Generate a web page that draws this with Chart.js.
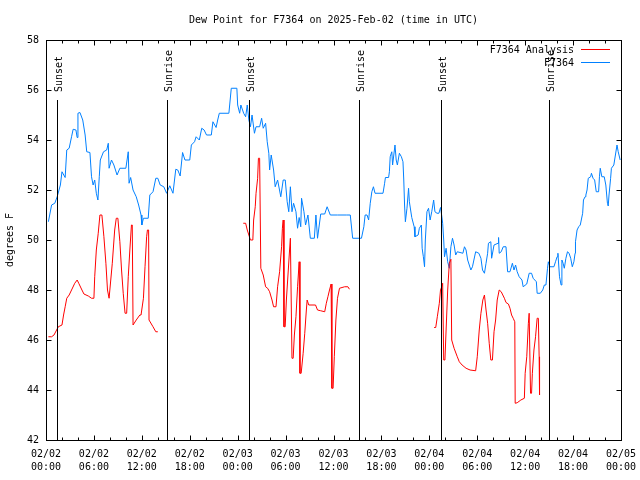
<!DOCTYPE html>
<html>
<head>
<meta charset="utf-8">
<script src="https://cdn.jsdelivr.net/npm/chart.js@4/dist/chart.umd.min.js"></script>
<style>
  html, body { margin: 0; padding: 0; background: #fff; }
  #wrap { width: 640px; height: 480px; }
</style>
</head>
<body>
<div id="wrap"><canvas id="dewChart" width="640" height="480"></canvas></div>
<script>
// horas desde 02/02 00:00 UTC
const blueHours = [0.3,0.7,1.1,1.4,1.8,2.0,2.4,2.6,2.9,3.2,3.4,3.75,3.9,4.0,4.25,4.6,4.9,5.1,5.5,5.7,5.9,6.1,6.3,6.5,6.67,6.8,7.2,7.6,7.8,7.9,8.2,8.5,8.9,9.25,10.0,10.3,10.4,10.6,10.9,11.3,11.6,11.9,12.0,12.2,12.8,13.0,13.4,13.75,14.0,14.3,14.75,15.1,15.5,15.9,16.25,16.5,16.8,17.1,17.4,18.0,18.2,18.6,18.8,19.2,19.5,19.8,20.1,20.7,20.9,21.3,21.5,21.7,22.9,23.0,23.2,23.9,24.0,24.25,24.4,24.75,25.0,25.2,25.4,25.6,25.8,26.1,26.3,26.75,27.0,27.2,27.5,27.7,27.9,28.0,28.2,28.5,28.7,29.0,29.4,29.7,29.96,30.2,30.4,30.6,30.8,31.0,31.3,31.5,31.7,31.9,32.0,32.3,32.5,32.8,33.1,33.6,33.8,34.0,34.4,34.9,35.2,35.6,36.5,37.6,38.1,38.4,39.25,39.5,39.8,39.96,40.2,40.4,40.6,40.8,41.0,41.2,42.2,42.4,42.5,42.9,43.0,43.1,43.3,43.4,43.55,43.7,43.85,44.0,44.25,44.5,44.7,44.8,44.9,45.0,45.2,45.4,45.5,45.8,46.1,46.2,46.6,46.75,47.0,47.1,47.25,47.4,47.5,47.7,47.9,48.1,48.3,48.54,48.7,48.96,49.2,49.4,49.54,49.67,49.8,49.9,50.1,50.3,50.5,50.7,50.9,51.1,51.3,51.5,52.2,52.4,52.6,52.8,53.0,53.2,53.4,53.8,54.2,54.46,54.66,54.9,55.1,55.3,55.4,55.7,55.8,56.1,56.6,56.67,56.75,57.0,57.25,57.6,57.8,58.1,58.4,58.6,58.8,59.0,59.25,59.6,59.75,60.2,60.5,60.8,61.0,61.4,61.5,61.9,62.2,62.4,62.6,62.8,62.9,63.1,63.6,63.8,64.0,64.1,64.3,64.5,64.6,64.75,64.9,65.1,65.3,65.5,65.7,65.9,66.1,66.25,66.3,66.5,66.7,66.9,67.2,67.3,67.5,67.6,67.75,67.9,68.2,68.3,68.5,68.7,68.9,69.2,69.3,69.4,69.6,69.9,70.1,70.3,70.4,70.5,70.7,70.8,71.1,71.3,71.5,71.65,71.9];
const blueValues = [50.73,51.4,51.47,51.73,52.2,52.73,52.5,53.6,53.67,54.13,54.43,54.4,54.1,55.07,55.1,54.8,54.2,53.53,53.5,52.53,52.2,52.4,51.87,51.6,52.53,53.2,53.53,53.6,53.87,52.87,53.2,53.0,52.6,52.87,52.87,53.53,52.27,52.5,52.0,51.73,51.4,51.0,50.6,50.87,50.87,51.8,51.93,52.47,52.47,52.2,52.13,51.87,52.17,51.87,52.83,52.8,52.56,53.5,53.2,53.2,53.8,53.93,54.13,54.0,54.47,54.4,54.2,54.2,54.73,54.5,54.8,55.07,55.07,55.4,56.07,56.07,55.4,55.07,55.4,55.07,54.93,55.4,54.8,54.53,55.0,54.27,54.53,54.53,54.87,54.47,54.67,53.93,53.47,52.8,53.4,52.8,52.13,52.4,51.73,52.4,52.4,51.53,51.13,52.13,51.13,51.47,51.13,50.47,50.9,50.53,51.67,51.13,50.6,51.0,50.07,50.07,51.0,50.07,51.04,51.04,51.33,51.0,51.0,51.0,51.0,50.07,50.07,50.07,50.53,51.0,51.0,50.8,51.47,51.93,52.13,51.87,51.87,52.27,52.5,52.5,52.73,53.33,53.53,53.0,53.4,53.8,53.2,53.0,53.47,53.33,53.13,52.4,51.4,50.73,51.27,52.07,51.53,50.9,50.53,50.13,50.2,50.47,50.6,49.67,49.33,48.93,50.0,51.13,51.27,50.8,51.13,51.6,51.13,51.07,51.07,51.3,51.0,50.67,50.0,49.33,49.67,49.13,48.87,49.73,50.07,49.8,49.4,49.53,49.47,49.73,49.6,49.2,49.0,48.8,48.93,49.53,49.47,49.27,48.8,48.67,49.07,49.47,49.87,49.93,49.27,49.8,49.87,50.1,49.47,49.53,49.73,49.73,48.73,48.73,49.07,48.8,49.0,48.73,48.53,48.4,48.13,48.24,48.67,48.67,48.47,48.33,47.87,47.87,48.0,48.2,48.2,48.87,49.13,48.93,48.93,49.13,49.33,49.47,48.53,48.2,49.2,49.07,48.87,49.27,49.53,49.47,49.27,48.93,49.13,49.47,49.93,50.4,50.53,50.6,51.07,51.6,51.73,51.8,52.0,52.47,52.53,52.67,52.47,52.4,51.93,51.93,52.53,52.87,52.53,52.53,52.2,51.47,51.36,51.8,52.47,52.87,53.0,53.4,53.8,53.53,53.2];

// null = sem dados (quebra na linha)
const redHours = [0.3,0.7,1.0,1.54,2.0,2.2,2.4,2.6,2.9,3.2,3.6,3.9,4.1,4.5,4.75,5.3,5.7,6.0,6.1,6.3,6.54,6.75,7.0,7.25,7.5,7.7,7.9,8.0,8.3,8.6,8.8,9.0,9.25,9.46,9.67,9.9,10.1,10.3,10.5,10.7,10.8,10.9,11.3,11.75,11.9,12.2,12.4,12.6,12.7,12.85,12.9,13.4,13.75,14.0,19.0,24.7,25.0,25.2,25.4,25.6,25.9,26.0,26.2,26.3,26.5,26.6,26.75,26.9,27.2,27.5,27.75,28.0,28.3,28.5,28.8,29.0,29.25,29.5,29.6,29.7,29.8,29.95,30.1,30.3,30.5,30.6,30.8,30.95,31.1,31.3,31.5,31.7,31.8,31.95,32.2,32.4,32.6,32.7,32.9,33.75,34.0,34.4,34.9,35.1,35.3,35.5,35.7,35.8,35.95,36.1,36.3,36.5,36.75,37.4,37.8,38.0,43.0,48.6,48.8,49.0,49.25,49.4,49.55,49.67,49.8,49.95,50.1,50.3,50.5,50.7,50.8,51.1,51.5,51.75,52.1,52.6,53.1,53.8,54.0,54.25,54.46,54.7,54.9,55.1,55.3,55.5,55.7,55.9,56.1,56.3,56.5,56.75,57.0,57.2,57.4,57.6,57.9,58.1,58.3,58.5,58.7,58.75,59.0,59.46,59.9,60.0,60.2,60.3,60.4,60.5,60.67,60.8,60.9,61.1,61.3,61.5,61.65,61.75,61.8];
const redValues = [46.13,46.13,46.2,46.53,46.6,47.0,47.33,47.67,47.8,48.0,48.27,48.4,48.27,48.0,47.84,47.76,47.67,47.67,48.53,49.6,50.27,51.0,51.0,50.13,49.07,48.0,47.67,47.67,49.07,50.4,50.87,50.87,49.93,48.8,47.87,47.07,47.07,48.53,49.6,50.6,50.6,46.6,46.8,47.0,47.0,47.67,48.93,50.13,50.4,50.4,46.8,46.53,46.33,46.33,null,50.67,50.67,50.4,50.2,50.0,50.0,50.8,51.33,51.87,52.47,53.27,53.27,48.87,48.6,48.13,48.07,47.93,47.6,47.33,47.33,48.13,48.73,49.73,50.47,50.8,46.53,46.53,47.6,48.6,49.6,50.07,45.27,45.27,46.2,46.93,48.13,49.13,44.67,44.67,45.47,46.27,47.2,47.6,47.4,47.4,47.2,47.17,47.13,47.47,47.73,48.0,48.24,44.07,44.07,45.33,46.8,47.67,48.07,48.13,48.13,48.03,null,46.5,46.5,46.93,47.47,48.0,48.13,48.27,45.2,45.2,46.4,48.0,49.07,49.23,46.0,45.67,45.33,45.13,45.0,44.87,44.8,44.77,45.33,46.4,47.07,47.6,47.8,47.2,46.67,45.87,45.2,45.2,46.33,46.8,47.6,48.0,47.93,47.8,47.67,47.5,47.44,47.27,47.0,46.87,46.73,43.47,43.49,43.6,43.67,44.67,45.33,46.0,46.67,47.07,43.87,43.87,44.67,45.6,46.13,46.87,46.87,45.33,43.8];

const sunHours = [1.41, 15.16, 25.42, 39.17, 49.46, 63.04];
const sunLabels = ['Sunset', 'Sunrise', 'Sunset', 'Sunrise', 'Sunset', 'Sunrise'];

const xTickLabels = [
    ['02/02', '00:00'], ['02/02', '06:00'], ['02/02', '12:00'], ['02/02', '18:00'],
    ['02/03', '00:00'], ['02/03', '06:00'], ['02/03', '12:00'], ['02/03', '18:00'],
    ['02/04', '00:00'], ['02/04', '06:00'], ['02/04', '12:00'], ['02/04', '18:00'],
    ['02/05', '00:00']
];
const yTicks = [42, 44, 46, 48, 50, 52, 54, 56, 58];

const seriesNames = ['F7364 Analysis', 'F7364'];
const seriesColors = ['#ff0000', '#0080ff'];
const chartTitle = 'Dew Point for F7364 on 2025-Feb-02 (time in UTC)';
const yTitle = 'degrees F';

const FONT = '10px "DejaVu Sans Mono", "Liberation Mono", monospace';

function toPoints(hours, values) {
    return hours.map((h, i) => ({ x: h, y: values[i] }));
}

// desenha moldura, marcas, nascer/pôr do sol, legenda e títulos
const gnuplotDecor = {
    id: 'gnuplotDecor',
    afterDraw(chart) {
        const ctx = chart.ctx;
        const a = chart.chartArea;
        const xs = chart.scales.x;
        const ys = chart.scales.y;
        const L = Math.round(a.left) + 0.5, R = Math.round(a.right) + 0.5;
        const T = Math.round(a.top) + 0.5, B = Math.round(a.bottom) + 0.5;

        ctx.save();
        ctx.strokeStyle = '#000';
        ctx.lineWidth = 1;
        ctx.fillStyle = '#000';
        ctx.font = FONT;

        // linhas do nascer/pôr do sol
        sunHours.forEach((h, i) => {
            const px = Math.round(xs.getPixelForValue(h)) + 0.5;
            ctx.beginPath();
            ctx.moveTo(px, 100);
            ctx.lineTo(px, B);
            ctx.stroke();
            ctx.save();
            ctx.translate(px + 1.5, 92);
            ctx.rotate(-Math.PI / 2);
            ctx.textAlign = 'left';
            ctx.textBaseline = 'middle';
            ctx.fillText(sunLabels[i], 0, 0);
            ctx.restore();
        });

        // moldura
        ctx.strokeRect(L, T, R - L, B - T);

        // marcas do eixo x (maiores a cada 6h, menores a cada 2h)
        ctx.beginPath();
        for (let h = 0; h <= 72; h += 2) {
            const px = Math.round(xs.getPixelForValue(h)) + 0.5;
            const len = (h % 6 === 0) ? 5 : 3;
            ctx.moveTo(px, B); ctx.lineTo(px, B - len);
            ctx.moveTo(px, T); ctx.lineTo(px, T + len);
        }
        // marcas do eixo y
        yTicks.forEach(v => {
            const py = Math.round(ys.getPixelForValue(v)) + 0.5;
            ctx.moveTo(L, py); ctx.lineTo(L + 5, py);
            ctx.moveTo(R, py); ctx.lineTo(R - 5, py);
        });
        ctx.stroke();

        // título
        ctx.textAlign = 'center';
        ctx.textBaseline = 'middle';
        ctx.fillText(chartTitle, (a.left + a.right) / 2, 20);

        // título do eixo y
        ctx.save();
        ctx.translate(10, (a.top + a.bottom) / 2);
        ctx.rotate(-Math.PI / 2);
        ctx.fillText(yTitle, 0, 0);
        ctx.restore();

        // legenda
        seriesNames.forEach((name, i) => {
            const y = 50 + i * 13;
            ctx.fillStyle = '#000';
            ctx.textAlign = 'right';
            ctx.fillText(name, 574, y);
            ctx.strokeStyle = seriesColors[i];
            ctx.beginPath();
            ctx.moveTo(581, Math.round(y - 1) + 0.5);
            ctx.lineTo(610, Math.round(y - 1) + 0.5);
            ctx.stroke();
        });
        ctx.restore();
    }
};

const ctx = document.getElementById('dewChart').getContext('2d');
new Chart(ctx, {
    type: 'line',
    data: {
        datasets: [
            {
                label: seriesNames[0],
                data: toPoints(redHours, redValues),
                borderColor: seriesColors[0],
                borderWidth: 1,
                pointRadius: 0,
                tension: 0,
                spanGaps: false,
                fill: false
            },
            {
                label: seriesNames[1],
                data: toPoints(blueHours, blueValues),
                borderColor: seriesColors[1],
                borderWidth: 1,
                pointRadius: 0,
                tension: 0,
                fill: false
            }
        ]
    },
    options: {
        responsive: false,
        animation: false,
        layout: { padding: { left: 0, right: 19, top: 40, bottom: 0 } },
        plugins: {
            legend: { display: false },
            title: { display: false },
            tooltip: { enabled: false }
        },
        scales: {
            x: {
                type: 'linear',
                min: 0,
                max: 72,
                afterFit: s => { s.height = 40; s.paddingLeft = 0; s.paddingRight = 0; },
                afterBuildTicks: s => { s.ticks = xTickLabels.map((_, i) => ({ value: i * 6 })); },
                grid: { display: false, drawTicks: false },
                border: { display: false },
                ticks: {
                    autoSkip: false,
                    maxRotation: 0,
                    padding: 8,
                    color: '#000',
                    font: { family: '"DejaVu Sans Mono", monospace', size: 10, lineHeight: 1.3 },
                    callback: v => xTickLabels[Math.round(v / 6)]
                }
            },
            y: {
                min: 42,
                max: 58,
                afterFit: s => { s.width = 46; s.paddingTop = 0; s.paddingBottom = 0; },
                afterBuildTicks: s => { s.ticks = yTicks.map(v => ({ value: v })); },
                grid: { display: false, drawTicks: false },
                border: { display: false },
                ticks: {
                    padding: 7,
                    color: '#000',
                    font: { family: '"DejaVu Sans Mono", monospace', size: 10 }
                }
            }
        }
    },
    plugins: [gnuplotDecor]
});
</script>
</body>
</html>
